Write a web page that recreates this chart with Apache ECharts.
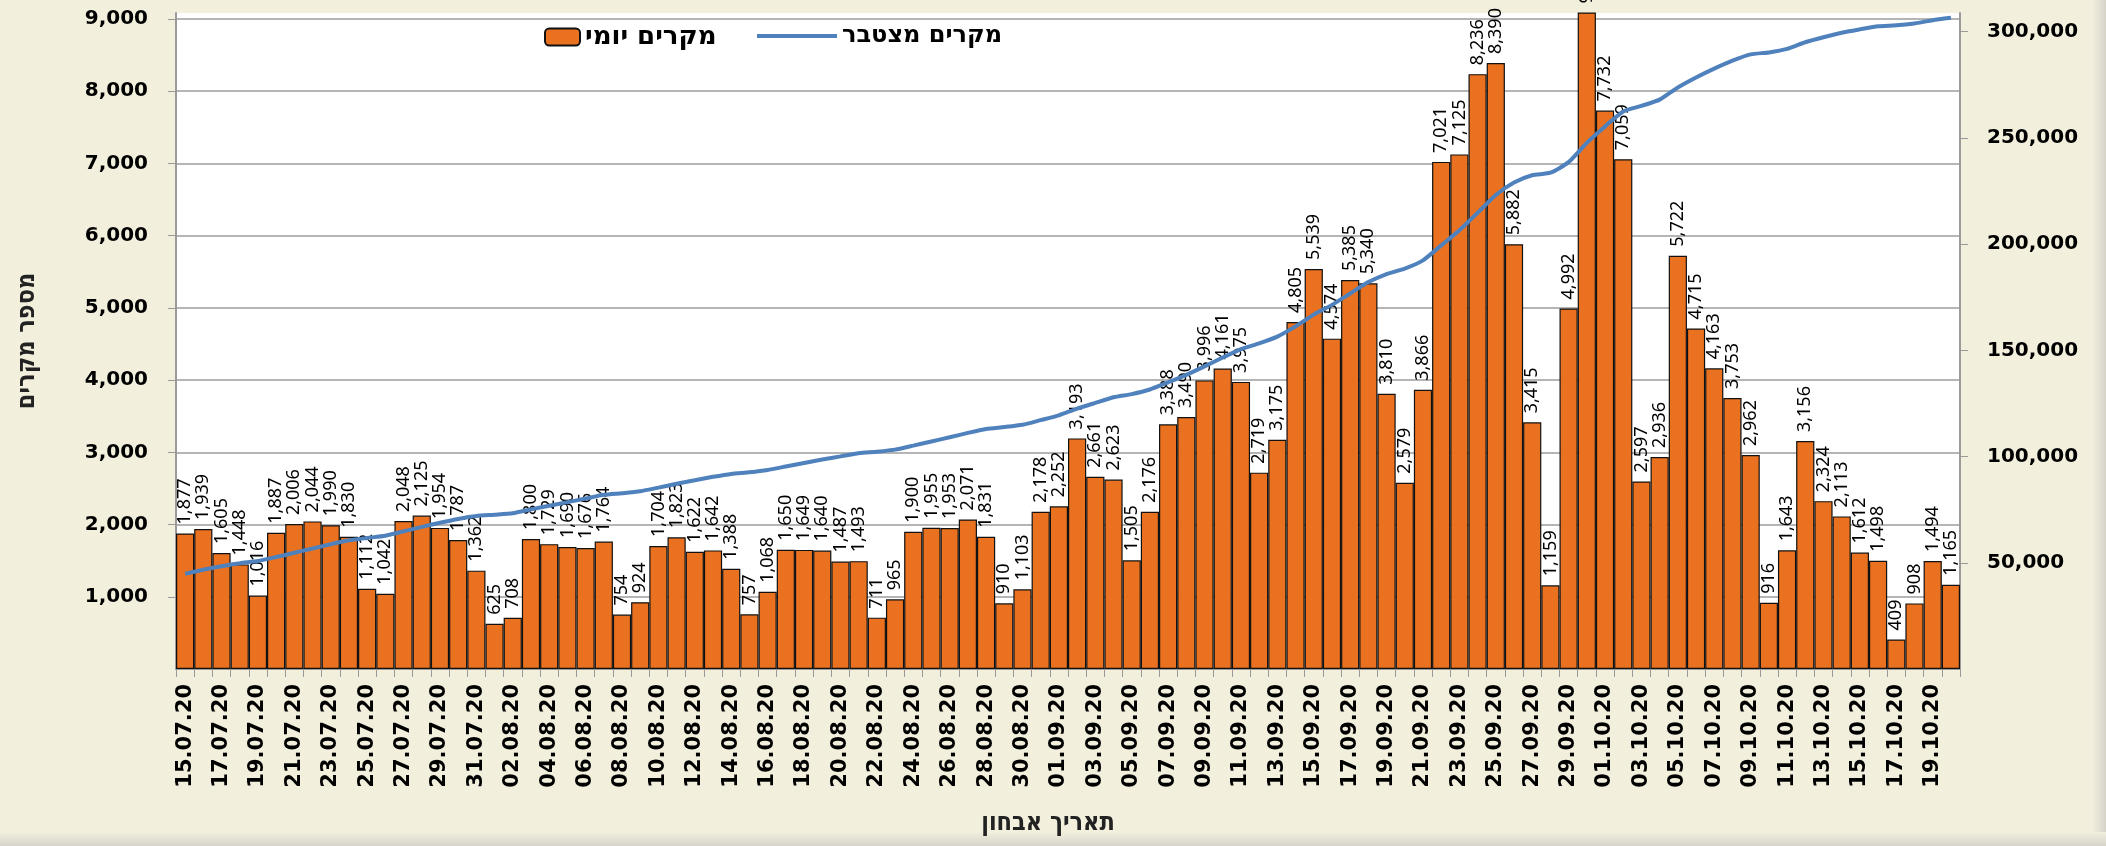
<!DOCTYPE html>
<html>
<head>
<meta charset="utf-8">
<script src="https://cdn.jsdelivr.net/npm/echarts@6/dist/echarts.min.js"></script>
<style>
html, body { margin: 0; padding: 0; background: #F2EFDD; }
#chart { width: 2106px; height: 846px; }
</style>
</head>
<body>
<div id="chart"></div>
<script>
// dates of the test
var dates = [
    '15.07.20','16.07.20','17.07.20','18.07.20','19.07.20','20.07.20','21.07.20','22.07.20','23.07.20','24.07.20',
    '25.07.20','26.07.20','27.07.20','28.07.20','29.07.20','30.07.20','31.07.20','01.08.20','02.08.20','03.08.20',
    '04.08.20','05.08.20','06.08.20','07.08.20','08.08.20','09.08.20','10.08.20','11.08.20','12.08.20','13.08.20',
    '14.08.20','15.08.20','16.08.20','17.08.20','18.08.20','19.08.20','20.08.20','21.08.20','22.08.20','23.08.20',
    '24.08.20','25.08.20','26.08.20','27.08.20','28.08.20','29.08.20','30.08.20','31.08.20','01.09.20','02.09.20',
    '03.09.20','04.09.20','05.09.20','06.09.20','07.09.20','08.09.20','09.09.20','10.09.20','11.09.20','12.09.20',
    '13.09.20','14.09.20','15.09.20','16.09.20','17.09.20','18.09.20','19.09.20','20.09.20','21.09.20','22.09.20',
    '23.09.20','24.09.20','25.09.20','26.09.20','27.09.20','28.09.20','29.09.20','30.09.20','01.10.20','02.10.20',
    '03.10.20','04.10.20','05.10.20','06.10.20','07.10.20','08.10.20','09.10.20','10.10.20','11.10.20','12.10.20',
    '13.10.20','14.10.20','15.10.20','16.10.20','17.10.20','18.10.20','19.10.20','20.10.20'
];

// daily cases (מקרים יומי)
var daily = [
    1877,1939,1605,1448,1016,1887,2006,2044,1990,1830,
    1112,1042,2048,2125,1954,1787,1362,625,708,1800,
    1729,1690,1676,1764,754,924,1704,1823,1622,1642,
    1388,757,1068,1650,1649,1640,1487,1493,711,965,
    1900,1955,1953,2071,1831,910,1103,2178,2252,3193,
    2661,2623,1505,2176,3388,3490,3996,4161,3975,2719,
    3175,4805,5539,4574,5385,5340,3810,2579,3866,7021,
    7125,8236,8390,5882,3415,1159,4992,9090,7732,7059,
    2597,2936,5722,4715,4163,3753,2962,916,1643,3156,
    2324,2113,1612,1498,409,908,1494,1165
];

// cumulative cases (מקרים מצטבר)
var cumulative = [
    44800,46739,48344,49792,50808,52695,54701,56745,58735,60565,
    61677,62719,64767,66892,68846,70633,71995,72620,73328,75128,
    76857,78547,80223,81987,82741,83665,85369,87192,88814,90456,
    91844,92601,93669,95319,96968,98608,100095,101588,102299,103264,
    105164,107119,109072,111143,112974,113884,114987,117165,119417,122610,
    125271,127894,129399,131575,134963,138453,142449,146610,150585,153304,
    156479,161284,166823,171397,176782,182122,185932,188511,192377,199398,
    206523,214759,223149,229031,232446,233605,238597,247687,255419,262478,
    265075,268011,273733,278448,282611,286364,289326,290242,291885,295041,
    297365,299478,301090,302588,302997,303905,305399,306564
];

var leftTicks = 1000, rightTicks = 50000;

function fmt(v) {
    return (v + '').replace(/(\d{1,3})(?=(?:\d{3})+(?!\d))/g, '$1,');
}

var chart = echarts.init(document.getElementById('chart'));
var bold = {color: '#000', fontFamily: 'DejaVu Sans', fontWeight: 'bold', fontSize: 20};
var legendText = {color: '#000', fontFamily: 'DejaVu Sans', fontWeight: 'bold', fontSize: 26};

var option = {
    backgroundColor: '#F2EFDD',
    animation: false,
    grid: {
        left: 176, right: 146, top: 13, bottom: 177,
        outerBoundsMode: 'none',
        containLabel: false,
        show: true, backgroundColor: '#ffffff', borderWidth: 0
    },
    legend: [
        {
            data: ['מקרים יומי'],
            left: 539, top: 19,
            itemWidth: 35, itemHeight: 17,
            textStyle: legendText
        },
        {
            data: [{name: 'מקרים מצטבר', icon: 'rect'}],
            left: 752, top: 19,
            itemWidth: 80, itemHeight: 4,
            textStyle: Object.assign({}, legendText, {fontSize: 24})
        }
    ],
    xAxis: {
        type: 'category',
        data: dates,
        name: 'תאריך אבחון',
        nameLocation: 'middle',
        nameGap: 142,
        nameTextStyle: {color: '#222', fontFamily: 'DejaVu Sans Condensed', fontWeight: 'bold', fontSize: 25, padding: [0, 40, 0, 0]},
        axisLine: {lineStyle: {color: '#9A9A9A', width: 2}},
        axisTick: {show: true, interval: 0, length: 8, lineStyle: {color: '#9A9A9A'}},
        axisLabel: {
            interval: 1, rotate: 90, margin: 15,
            color: '#000', fontFamily: 'DejaVu Sans', fontWeight: 'bold', fontSize: 21
        }
    },
    yAxis: [
        {
            type: 'value',
            min: 0, max: 9083, interval: leftTicks,
            name: 'מספר מקרים',
            nameLocation: 'middle',
            nameGap: 136,
            nameTextStyle: {color: '#222', fontFamily: 'DejaVu Sans Condensed', fontWeight: 'bold', fontSize: 25},
            axisLine: {show: true, lineStyle: {color: '#9A9A9A', width: 2}},
            axisTick: {show: true, length: 8, inside: false, lineStyle: {color: '#9A9A9A'}},
            axisLabel: Object.assign({margin: 28, showMinLabel: false, showMaxLabel: false, formatter: fmt}, bold),
            splitLine: {show: true, showMaxLine: false, lineStyle: {color: '#9C9C9C', width: 1.5}}
        },
        {
            type: 'value',
            position: 'right',
            min: 0, max: 308800, interval: rightTicks,
            axisLine: {show: true, lineStyle: {color: '#9A9A9A', width: 2}},
            axisTick: {show: true, length: 8, lineStyle: {color: '#9A9A9A'}},
            axisLabel: Object.assign({margin: 27, showMinLabel: false, showMaxLabel: false, formatter: fmt}, bold),
            splitLine: {show: false}
        }
    ],
    series: [
        {
            name: 'מקרים יומי',
            type: 'bar',
            data: daily,
            barCategoryGap: '0%',
            itemStyle: {color: '#E9711F', borderColor: '#111', borderWidth: 1.2},
            label: {
                show: true,
                position: 'top',
                rotate: 90,
                align: 'left',
                verticalAlign: 'middle',
                distance: 9,
                color: '#000',
                fontFamily: 'Noto Sans',
                fontSize: 18,
                formatter: function (p) { return fmt(p.value); }
            },
            z: 2
        },
        {
            name: 'מקרים מצטבר',
            type: 'line',
            yAxisIndex: 1,
            data: cumulative,
            showSymbol: false,
            symbol: 'none',
            smooth: 0.2,
            lineStyle: {color: '#4F81BD', width: 4},
            itemStyle: {color: '#4F81BD'},
            z: 5
        }
    ],
    graphic: [
        {
            type: 'rect', right: 0, top: 0,
            shape: {width: 14, height: 846},
            style: {fill: new echarts.graphic.LinearGradient(0, 0, 1, 0, [
                {offset: 0, color: '#F2EFDD'}, {offset: 1, color: '#D6D4CA'}
            ])},
            silent: true
        },
        {
            type: 'rect', left: 0, bottom: 0,
            shape: {width: 2106, height: 14},
            style: {fill: new echarts.graphic.LinearGradient(0, 0, 0, 1, [
                {offset: 0, color: '#F2EFDD'}, {offset: 1, color: '#D6D4CA'}
            ])},
            silent: true
        }
    ]
};
chart.setOption(option);
</script>
</body>
</html>
